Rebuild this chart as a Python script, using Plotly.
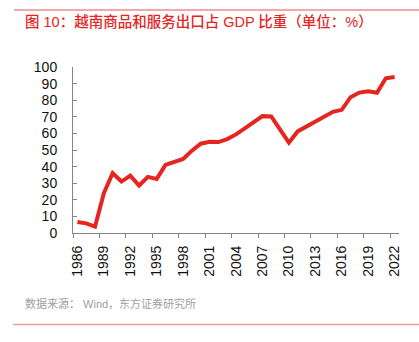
import plotly.graph_objects as go

years = list(range(1986, 2023))
values = [6.6, 5.8, 3.8, 24.0, 36.0, 31.0, 34.6, 28.6, 33.8, 32.6,
          41.0, 43.0, 44.6, 49.6, 53.8, 55.0, 54.8, 56.6, 59.4, 63.0,
          67.0, 70.4, 70.2, 62.6, 54.4, 61.2, 64.2, 67.2, 70.1, 73.0,
          74.2, 81.8, 84.6, 85.4, 84.5, 93.2, 94.0]
label_years = list(range(1986, 2023, 3))
title_text = "图 10：越南商品和服务出口占 GDP 比重（单位：%）"
source_text = "数据来源： Wind，东方证券研究所"

W, H = 419, 342
L, R, T, B = 73, 20, 67, 109
pw, ph = W - L - R, H - T - B

def px_x(px):
    return (px - L) / pw

def px_y(py):
    return (H - B - py) / ph

axis_col = "#868686"
red = "#e5251f"

fig = go.Figure()
fig.add_trace(go.Scatter(x=years, y=values, mode="lines",
                         line=dict(color=red, width=4), hoverinfo="skip"))

fig.update_layout(
    width=W, height=H,
    margin=dict(l=L, r=R, t=T, b=B),
    paper_bgcolor="white", plot_bgcolor="white",
    showlegend=False,
    font=dict(family="Liberation Sans, Arial, sans-serif", size=14, color="#111111"),
    xaxis=dict(
        range=[1985.5, 2022.5], showgrid=False, zeroline=False,
        showline=True, linecolor=axis_col, linewidth=1,
        tickmode="array", tickvals=label_years, ticktext=[str(y) for y in label_years],
        ticks="", ticklen=0, tickangle=-90, ticklabelstandoff=6,
        minor=dict(ticks="outside", ticklen=4, tickcolor=axis_col,
                   tick0=1985.5, dtick=3, showgrid=False),
    ),
    yaxis=dict(
        range=[0, 100], dtick=10, tick0=0, showgrid=False, zeroline=False,
        showline=True, linecolor=axis_col, linewidth=1,
        ticks="inside", ticklen=4, tickcolor=axis_col,
        ticklabelstandoff=12,
    ),
    shapes=[
        dict(type="line", xref="paper", yref="paper",
             x0=px_x(14), x1=px_x(419), y0=px_y(10), y1=px_y(10),
             line=dict(color="#f08c8c", width=1.5)),
        dict(type="line", xref="paper", yref="paper",
             x0=px_x(13), x1=px_x(419), y0=px_y(324.5), y1=px_y(324.5),
             line=dict(color="#f09a9a", width=1.5)),
    ],
    annotations=[
        dict(text=title_text, xref="paper", yref="paper",
             x=px_x(23), y=px_y(21), xanchor="left", yanchor="middle",
             showarrow=False,
             font=dict(family="Liberation Sans, Noto Sans CJK SC", size=14.5,
                       weight=500, color="#e5251f")),
        dict(text=source_text, xref="paper", yref="paper",
             x=px_x(22.5), y=px_y(303), xanchor="left", yanchor="middle",
             showarrow=False,
             font=dict(family="Liberation Sans, Noto Sans CJK SC", size=11, color="#a0a0a0")),
    ],
)

fig.write_html("out.html")
